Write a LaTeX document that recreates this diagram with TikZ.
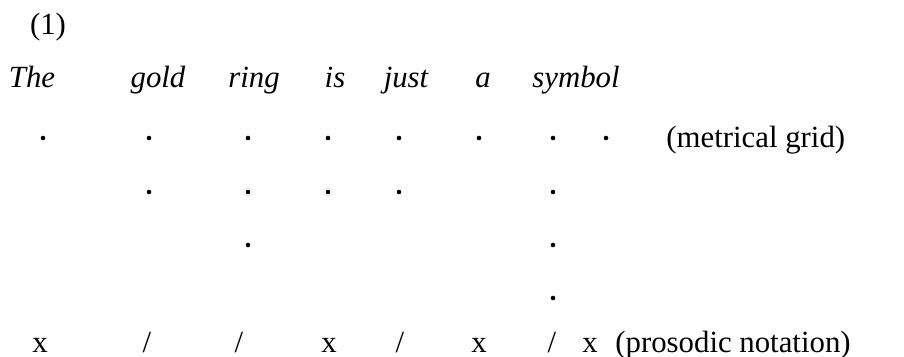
\documentclass[tikz,border=0pt]{standalone}
\usepackage{fontspec}
\setmainfont{Liberation Serif}
\usetikzlibrary{positioning}

\begin{document}
\begin{tikzpicture}[
  x=0.5pt, y=-0.5pt,
  font=\fontsize{15.4}{18}\selectfont,
  w/.style={inner sep=0pt, anchor=base, font=\fontsize{15.4}{18}\selectfont\itshape},
  mk/.style={inner sep=0pt, anchor=base},
  lbl/.style={inner sep=0pt, anchor=base west},
  gd/.style={circle, fill=black, inner sep=0pt, minimum size=2.3pt}
]
\useasboundingbox (0,0) rectangle (904,357);
\node[mk] (num) at (48,35) {(1)};
% words
\node[w] (the) at (32,88) {The};
\node[w] (gold) at (158,88) {gold};
\node[w] (ring) at (254,88) {ring};
\node[w] (is) at (335,88) {is};
\node[w] (just) at (406,88) {just};
\node[w] (a) at (483,88) {a};
\node[w] (sym) at (576,88) {symbol};
% metrical grid
\foreach \x [count=\i] in {43,149,248,328,399,479,553,606}
  \node[gd] (g1-\i) at (\x,138) {};
\foreach \x [count=\i] in {149,248,328,399,553}
  \node[gd] (g2-\i) at (\x,192) {};
\foreach \x [count=\i] in {248,553}
  \node[gd] (g3-\i) at (\x,245) {};
\node[gd] (g4-1) at (553,298) {};
\node[lbl] (grid) at (666,148) {(metrical grid)};
% prosodic notation
\foreach \x/\s [count=\i] in {40/x,147/{/},239/{/},329/x,400/{/},479/x,552/{/},590/x}
  \node[mk] (p-\i) at (\x,353) {\s};
\node[lbl] (pros) at (615,353) {(prosodic notation)};
\end{tikzpicture}
\end{document}
